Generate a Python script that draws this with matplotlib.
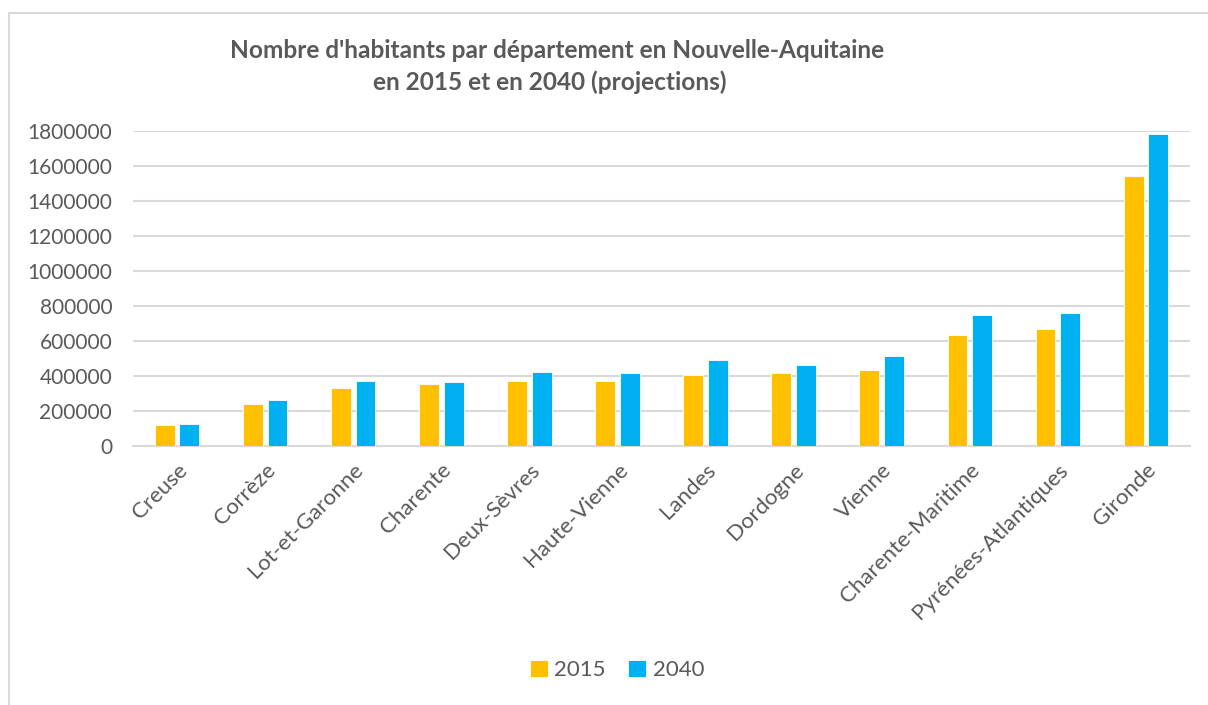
import numpy as np
import matplotlib.pyplot as plt
from matplotlib.lines import Line2D

plt.rcParams['font.family'] = ['Lato', 'DejaVu Sans']

departements = ["Creuse", "Corrèze", "Lot-et-Garonne", "Charente", "Deux-Sèvres",
                "Haute-Vienne", "Landes", "Dordogne", "Vienne", "Charente-Maritime",
                "Pyrénées-Atlantiques", "Gironde"]
pop_2015 = [120000, 238000, 333000, 354000, 371000, 373000,
            404000, 417000, 432000, 636000, 668000, 1541000]
pop_2040 = [126000, 263000, 373000, 367000, 421000, 419000,
            491000, 463000, 512000, 750000, 762000, 1781000]
yticks = [0, 200000, 400000, 600000, 800000, 1000000, 1200000, 1400000, 1600000, 1800000]

GREY = "#595959"

fig = plt.figure(figsize=(12.08, 7.05), dpi=100)
# chart border (only top and left visible in the crop)
fig.lines.append(Line2D([9/1208, 9/1208, 1.0], [0.0, 1 - 13/705, 1 - 13/705],
                        transform=fig.transFigure, color="#d9d9d9", linewidth=1.5))

ax = fig.add_axes([133/1208, 1 - 446/705, (1190 - 133)/1208, (446 - 131)/705])
x = np.arange(len(departements))
w = 0.225
ax.bar(x - 0.14, pop_2015, w, color="#FFC000", edgecolor="white", linewidth=0.6,
       label="2015", zorder=3)
ax.bar(x + 0.14, pop_2040, w, color="#00B0F0", edgecolor="white", linewidth=0.6,
       label="2040", zorder=3)

ax.set_xlim(-0.5, len(departements) - 0.5)
ax.set_ylim(0, 1800000)
ax.set_yticks(yticks)
ax.set_yticklabels([str(v) for v in yticks], fontsize=15, color=GREY)
ax.yaxis.grid(True, color="#d9d9d9", linewidth=1.5, zorder=0)
ax.set_axisbelow(True)
ax.set_xticks(x)
ax.set_xticklabels(departements, rotation=45, ha="right", rotation_mode="anchor",
                   fontsize=16, color=GREY)
ax.tick_params(axis="both", length=0)
ax.tick_params(axis="y", pad=15)
ax.tick_params(axis="x", pad=10)
for s in ["top", "right", "left"]:
    ax.spines[s].set_visible(False)
ax.spines["bottom"].set_color("#d9d9d9")
ax.spines["bottom"].set_linewidth(1.5)

fig.text(557/1208, 1 - 50/705, "Nombre d'habitants par département en Nouvelle-Aquitaine",
         ha="center", va="center", fontsize=17.6, fontweight="bold", color=GREY)
fig.text(550/1208, 1 - 82/705, "en 2015 et en 2040 (projections)",
         ha="center", va="center", fontsize=17.6, fontweight="bold", color=GREY)

fig.legend(loc="center", bbox_to_anchor=(617/1208, 1 - 670/705), ncol=2, frameon=False,
           fontsize=16, labelcolor=GREY, handlelength=0.8, handleheight=0.8,
           handletextpad=0.3, columnspacing=1.0)

fig.savefig("out.png", dpi=100)
